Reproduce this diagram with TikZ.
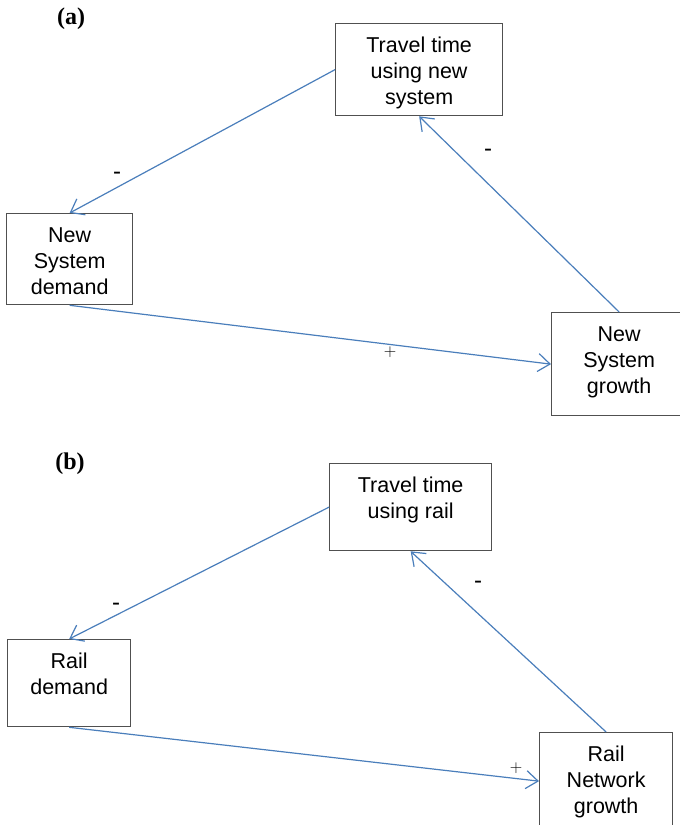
\documentclass[tikz,border=0pt]{standalone}
\usepackage{fontspec}
\setmainfont{Liberation Sans}
\newfontfamily\labelserif{Liberation Serif}
\usetikzlibrary{arrows.meta}

\definecolor{linkblue}{HTML}{4A7EBB}
\definecolor{boxgray}{HTML}{505050}

% text of a variable box: fixed size, lines centred and hung from the top
\newcommand\boxlines[3]{\parbox[c][#2][t]{#1}{\centering\rule{0pt}{29pt}#3\par}}

\tikzset{
  varbox/.style={draw=boxgray, line width=1.3pt, inner sep=0pt, anchor=north west,
                 font=\fontsize{21.5}{26}\selectfont},
  link/.style={draw=linkblue, line width=1.2pt, -{Straight Barb[length=12pt,width=18pt]}},
  minus/.style={font=\fontsize{24}{28}\selectfont, inner sep=0pt},
  plus/.style={font=\fontsize{18}{20}\selectfont, inner sep=0pt},
  panel/.style={font=\labelserif\bfseries\fontsize{24}{28}\selectfont, inner sep=0pt}
}

\begin{document}
\begin{tikzpicture}[x=1pt,y=-1pt]
\useasboundingbox (0,0) rectangle (680,825);
\clip (0,0) rectangle (680,825);

% ---------------- (a) new system loop ----------------
\node[panel] (pa) at (71,19) {(a)};
\node[varbox] (tta) at (335,23) {\boxlines{167pt}{92pt}{Travel time\\using new\\system}};
\node[varbox] (nda) at (6,213)  {\boxlines{126pt}{91pt}{New\\System\\demand}};
\node[varbox] (nga) at (551,312) {\boxlines{135pt}{103pt}{New\\System\\growth}};

\draw[link] (tta.west) -- (nda.north);
\draw[link] (nda.south) -- (nga.west);
\draw[link] (nga.north) -- (tta.south);

\node[minus] (sa1) at (117,176) {-};
\node[minus] (sa2) at (488,153) {-};
\node[plus]  (sa3) at (390,352) {$+$};

% ---------------- (b) rail loop ----------------
\node[panel] (pb) at (70,464) {(b)};
\node[varbox] (ttb) at (329,463) {\boxlines{162pt}{87pt}{Travel time\\using rail}};
\node[varbox] (rdb) at (7,639)   {\boxlines{123pt}{87pt}{Rail\\demand}};
\node[varbox] (rgb) at (539,732) {\boxlines{133pt}{97pt}{Rail\\Network\\growth}};

\draw[link] (ttb.west) -- (rdb.north);
\draw[link] (rdb.south) -- (rgb.west);
\draw[link] (rgb.north) -- (ttb.south);

\node[minus] (sb1) at (116,607) {-};
\node[minus] (sb2) at (478,585) {-};
\node[plus]  (sb3) at (516,768) {$+$};
\end{tikzpicture}
\end{document}
